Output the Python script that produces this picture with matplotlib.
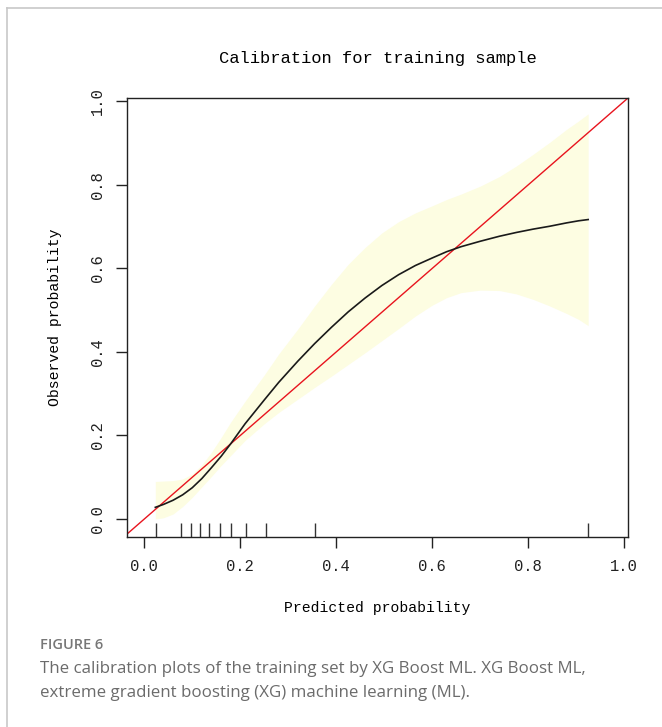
import matplotlib.pyplot as plt
from matplotlib.lines import Line2D

# values
pred_x = [0.023, 0.04, 0.06, 0.08, 0.10, 0.12, 0.14, 0.16, 0.18, 0.21, 0.25, 0.28, 0.32, 0.355, 0.39,
          0.425, 0.46, 0.495, 0.53, 0.565, 0.60, 0.63, 0.66, 0.70, 0.74, 0.775, 0.81, 0.845, 0.88, 0.905, 0.925]
obs_y = [0.028, 0.035, 0.045, 0.058, 0.075, 0.097, 0.123, 0.150, 0.180, 0.228, 0.285, 0.327, 0.378, 0.420, 0.459,
         0.496, 0.529, 0.559, 0.585, 0.607, 0.625, 0.640, 0.652, 0.665, 0.677, 0.686, 0.694, 0.701, 0.709, 0.714, 0.717]
band_upper = [0.090, 0.091, 0.092, 0.096, 0.108, 0.130, 0.160, 0.195, 0.232, 0.282, 0.345, 0.395, 0.455, 0.510, 0.562,
              0.610, 0.650, 0.685, 0.712, 0.733, 0.750, 0.765, 0.778, 0.797, 0.820, 0.845, 0.873, 0.902, 0.933, 0.953, 0.970]
band_lower = [0.000, 0.003, 0.012, 0.030, 0.052, 0.077, 0.102, 0.128, 0.152, 0.188, 0.228, 0.255, 0.287, 0.315, 0.342,
              0.370, 0.398, 0.427, 0.456, 0.486, 0.512, 0.530, 0.542, 0.548, 0.547, 0.539, 0.526, 0.510, 0.492, 0.478, 0.463]
rug_x = [0.024, 0.077, 0.098, 0.116, 0.134, 0.157, 0.181, 0.213, 0.253, 0.355, 0.925]
ticks = [0.0, 0.2, 0.4, 0.6, 0.8, 1.0]
tick_labels = ["0.0", "0.2", "0.4", "0.6", "0.8", "1.0"]

mono = "Liberation Mono"

fig = plt.figure(figsize=(6.62, 7.27), dpi=100)
ax = fig.add_axes([127 / 662, 1 - 537 / 727, 501 / 662, 439 / 727])

ax.fill_between(pred_x, band_lower, band_upper, color="#fdfde2", lw=0)
ax.plot([-0.1, 1.1], [-0.1, 1.1], color="#e8141e", lw=1.0)
ax.plot(pred_x, obs_y, color="#1a1a1a", lw=1.2)
ax.vlines(rug_x, 0, 0.032, color="#333333", lw=1.0, transform=ax.get_xaxis_transform())

ax.set_xlim(-0.036, 1.008)
ax.set_ylim(-0.043, 1.008)
ax.set_xticks(ticks)
ax.set_yticks(ticks)
ax.set_xticklabels(tick_labels, family=mono, fontsize=11.2)
ax.set_yticklabels(tick_labels, family=mono, fontsize=11.2, rotation=90, va="center")
ax.tick_params(length=8, width=1.0, pad=8, colors="#222222")
for s in ax.spines.values():
    s.set_linewidth(1.0)
    s.set_color("#222222")

ax.set_title("Calibration for training sample", family=mono, fontsize=12.3, pad=25)
ax.set_xlabel("Predicted probability", family=mono, fontsize=10.6, labelpad=19)
ax.set_ylabel("Observed probability", family=mono, fontsize=10.6, labelpad=20)

# caption and frame
fig.text(40 / 662, 1 - 645 / 727, "FIGURE 6", family="Open Sans", fontsize=10.5,
         color="#777777", va="center", weight="semibold")
fig.text(40 / 662, 1 - 669 / 727, "The calibration plots of the training set by XG Boost ML. XG Boost ML,",
         family="Open Sans", fontsize=12.2, color="#6b6b6b", va="center")
fig.text(40 / 662, 1 - 693 / 727, "extreme gradient boosting (XG) machine learning (ML).",
         family="Open Sans", fontsize=12.2, color="#6b6b6b", va="center")
fig.add_artist(Line2D([7 / 662, 1.0], [1 - 8 / 727] * 2, color="#c8c8c8", lw=1.2))
fig.add_artist(Line2D([7 / 662] * 2, [0, 1 - 8 / 727], color="#c8c8c8", lw=1.2))

fig.savefig("out.png", dpi=100)
